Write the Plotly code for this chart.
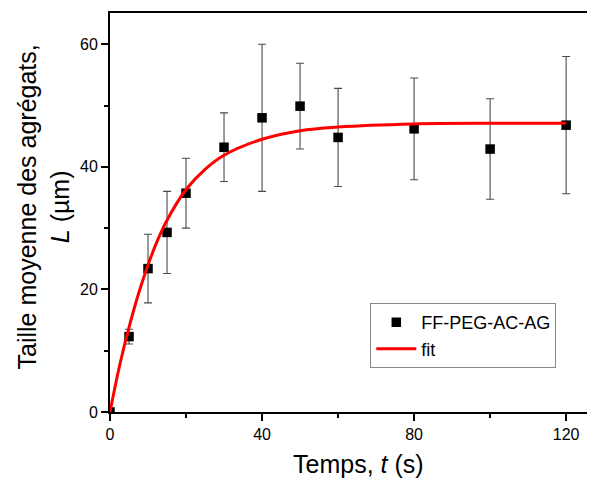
import plotly.graph_objects as go

# Measured data
t_data = [0, 5, 10, 15, 20, 30, 40, 50, 60, 80, 100, 120]
L_data = [0.0, 12.3, 23.4, 29.3, 35.7, 43.2, 48.0, 49.9, 44.8, 46.2, 42.9, 46.8]
L_err = [0.0, 1.2, 5.6, 6.7, 5.7, 5.6, 12.0, 7.0, 8.0, 8.3, 8.2, 11.2]

# Fit curve values
t_fit = [0, 2.5, 5, 7.5, 10, 12.5, 15, 20, 25, 30, 40, 50, 60, 80, 100, 120]
L_fit = [0.0, 7.5, 13.8, 19.3, 24.0, 28.0, 31.3, 36.3, 39.6, 41.9, 44.5, 45.9, 46.5, 47.0, 47.1, 47.1]

x_ticks = [0, 40, 80, 120]
y_ticks = [0, 20, 40, 60]

x_title = "Temps, <i>t</i> (s)"
y_title = "Taille moyenne des agrégats,<br><i>L</i> (µm)"

FONT = "Liberation Sans, Arial, sans-serif"

fig = go.Figure()
fig.add_trace(go.Scatter(
    x=t_data, y=L_data, mode="markers", name="FF-PEG-AC-AG",
    marker=dict(symbol="square", size=9.5, color="black"),
    error_y=dict(type="data", array=L_err, visible=True, color="#4a4a4a",
                 thickness=1.1, width=4),
))
fig.add_trace(go.Scatter(
    x=t_fit, y=L_fit, mode="lines", name="fit",
    line=dict(color="#ff0000", width=3, shape="spline"),
))

fig.add_annotation(text=x_title, xref="paper", yref="paper", x=0.505, y=-0.130,
                   xanchor="center", yanchor="middle", showarrow=False,
                   font=dict(size=25, family=FONT, color="black"))
fig.add_annotation(text=y_title, xref="paper", yref="paper", x=-0.134, y=0.515,
                   xanchor="center", yanchor="middle", showarrow=False,
                   textangle=-90,
                   font=dict(size=25, family=FONT, color="black"))

fig.update_layout(
    width=595, height=481,
    margin=dict(l=102, r=0, t=5, b=77, autoexpand=False),
    paper_bgcolor="white", plot_bgcolor="white",
    font=dict(family=FONT, color="black"),
    showlegend=True,
    legend=dict(x=0.528, y=0.273, xanchor="left", yanchor="top",
                bgcolor="white", bordercolor="#888888", borderwidth=1,
                font=dict(size=18, family=FONT), tracegroupgap=0,
                itemwidth=40),
    xaxis=dict(
        range=[0, 129.7], tickvals=x_ticks, ticks="outside", ticklen=7,
        tickwidth=1.5, tickcolor="black", showgrid=False, zeroline=False,
        showline=True, linecolor="black", linewidth=2, mirror=True,
        automargin=False,
        tickfont=dict(size=16, family=FONT),
        minor=dict(dtick=20, tick0=0, ticks="outside", ticklen=4,
                   tickwidth=1.5, tickcolor="black", showgrid=False),
    ),
    yaxis=dict(
        range=[0, 65.1], tickvals=y_ticks, ticks="outside", ticklen=7,
        tickwidth=1.5, tickcolor="black", showgrid=False, zeroline=False,
        showline=True, linecolor="black", linewidth=2,
        automargin=False,
        tickfont=dict(size=16, family=FONT),
        minor=dict(dtick=10, tick0=0, ticks="outside", ticklen=4,
                   tickwidth=1.5, tickcolor="black", showgrid=False),
    ),
)

fig.write_html("out.html")
